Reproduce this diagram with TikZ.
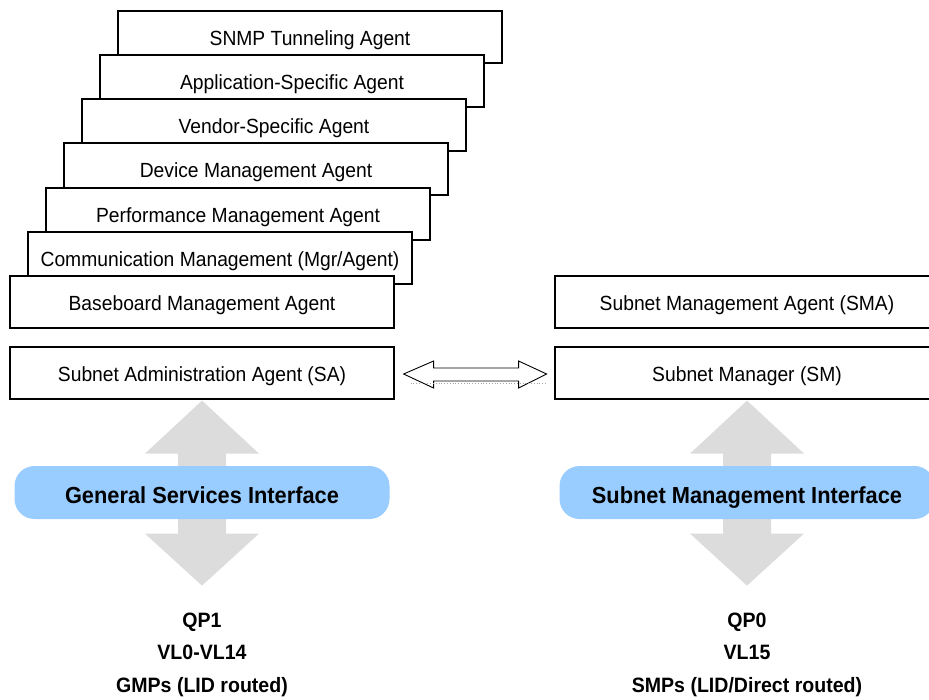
\documentclass[tikz,border=0pt]{standalone}
\usepackage{fontspec}
\setmainfont[FakeStretch=0.94]{Liberation Sans}
\usetikzlibrary{calc}
\definecolor{pillblue}{HTML}{99CCFF}
\definecolor{arrowgray}{HTML}{DCDCDC}
\tikzset{
  agentbox/.style={draw=black, line width=1.2pt, fill=white, minimum width=384pt,
    minimum height=52pt, inner sep=0pt, text height=17.2pt, text depth=0pt,
    font=\fontsize{20.5}{24}\selectfont},
  pill/.style={fill=pillblue, rounded corners=20pt, minimum width=375pt,
    minimum height=53pt, inner sep=0pt, text height=21.6pt, text depth=0pt,
    font=\fontsize{23.2}{27}\selectfont\bfseries},
  footnote/.style={anchor=base, inner sep=0pt, font=\fontsize{20.8}{24}\selectfont\bfseries},
  bigarrow/.style={fill=arrowgray, draw=none},
  linkarrow/.style={draw=black, line width=0.9pt, fill=white, line join=miter},
}
\begin{document}
\begin{tikzpicture}[x=1pt, y=-1pt]
  \useasboundingbox (0,0) rectangle (929,699);
  \clip (0,0) rectangle (929,699);

  % stacked agents, back to front
  \node[agentbox] (snmp) at (310,37)  {SNMP Tunneling Agent};
  \node[agentbox] (app)  at (292,81)  {Application-Specific Agent};
  \node[agentbox] (vsa)  at (274,125) {Vendor-Specific Agent};
  \node[agentbox] (dma)  at (256,169) {Device Management Agent};
  \node[agentbox] (pma)  at (238,214) {Performance Management Agent};
  \node[agentbox] (cma)  at (220,258) {Communication Management (Mgr/Agent)};
  \node[agentbox] (bma)  at (202,302) {Baseboard Management Agent};
  \node[agentbox] (sa)   at (202,373) {Subnet Administration Agent (SA)};

  % subnet management side
  \node[agentbox] (sma) at (747,302) {Subnet Management Agent (SMA)};
  \node[agentbox] (sm)  at (747,373) {Subnet Manager (SM)};

  % wide grey up/down arrows behind the interfaces
  \foreach \src in {sa, sm} {
    \fill[bigarrow] ($(\src.south)+(0,1)$) -- ++(57,53) -- ++(-33,0) -- ++(0,80)
      -- ++(33,0) -- ++(-57,52) -- ++(-57,-52) -- ++(33,0) -- ++(0,-80)
      -- ++(-33,0) -- cycle;
  }

  % interfaces
  \node[pill] (gsi) at (202,492.5) {General Services Interface};
  \node[pill] (smi) at (747,492.5) {Subnet Management Interface};

  % SA <-> SM exchange
  \coordinate (lt) at ($(sa.east)+(9,1)$);
  \draw[linkarrow] (lt) -- ++(30,-13) -- ++(0,7) -- ++(85,0) -- ++(0,-7)
    -- ++(28,13) -- ++(-28,14) -- ++(0,-7) -- ++(-85,0) -- ++(0,7) -- cycle;
  \draw[gray!70, dotted, line width=0.8pt] ($(lt)+(7,9)$) -- ($(sm.west)+(-8,10)$);

  % transport details
  \node[footnote] (qp1) at (202,627)   {QP1};
  \node[footnote] (vl1) at (202,659.5) {VL0-VL14};
  \node[footnote] (gmp) at (202,692)   {GMPs (LID routed)};
  \node[footnote] (qp0) at (747,627)   {QP0};
  \node[footnote] (vl0) at (747,659.5) {VL15};
  \node[footnote] (smp) at (747,692)   {SMPs (LID/Direct routed)};
\end{tikzpicture}
\end{document}
